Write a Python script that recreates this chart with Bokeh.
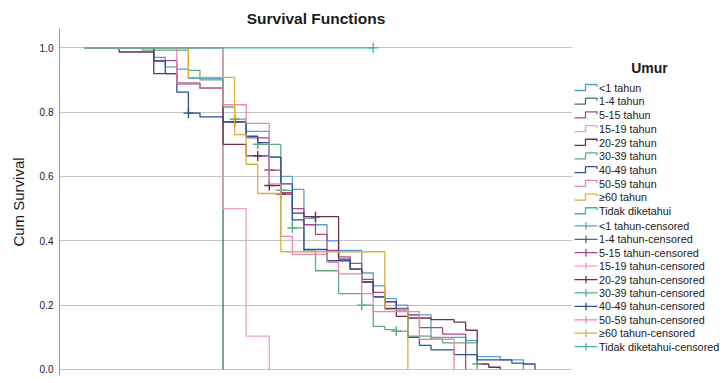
from bokeh.plotting import figure
from bokeh.layouts import row
from bokeh.models import FixedTicker, Range1d, NumeralTickFormatter, ColumnDataSource
from bokeh.core.properties import value
from bokeh.embed import file_html
from bokeh.resources import INLINE

# ---- data: Kaplan-Meier steps (time, survival) and censor times per group ----
groups = ["<1 tahun", "1-4 tahun", "5-15 tahun", "15-19 tahun", "20-29 tahun",
          "30-39 tahun", "40-49 tahun", "50-59 tahun", "\u226560 tahun", "Tidak diketahui"]
colors = ["#5a9fcb", "#3d7176", "#a5498a", "#f0a2b6", "#6e2f4a",
          "#62aa80", "#2f4f96", "#ea85b4", "#d8b03e", "#3db5b5"]

t_lt1 = [0, 6, 7, 8, 9, 12, 14, 16, 17, 18, 19, 20, 21, 22, 24, 25, 26, 27, 28, 30, 33, 34, 36, 38]
s_lt1 = [1.0, 0.97, 0.941, 0.934, 0.905, 0.77, 0.74, 0.66, 0.60, 0.56, 0.47, 0.45, 0.40, 0.37, 0.30, 0.26, 0.22, 0.20, 0.17, 0.10, 0.09, 0.04, 0.03, 0.0]
c_lt1 = [13]

t_1_4 = [0, 12]
s_1_4 = [1.0, 0.0]
c_1_4 = []

t_5_15 = [0, 6, 8, 10, 12, 14, 16, 17, 18, 19, 20, 21, 22, 23, 24, 25, 26, 27, 28, 29, 31, 33]
s_5_15 = [1.0, 0.96, 0.888, 0.875, 0.77, 0.72, 0.62, 0.55, 0.50, 0.45, 0.42, 0.37, 0.35, 0.33, 0.28, 0.24, 0.21, 0.19, 0.17, 0.13, 0.11, 0.0]
c_5_15 = [16]

t_15_19 = [0, 12, 14, 16]
s_15_19 = [1.0, 0.5, 0.104, 0.0]
c_15_19 = []

t_20_29 = [0, 3, 6, 8, 10, 12, 14, 16, 17, 18, 19, 22, 23, 24, 25, 26, 27, 28, 30, 32, 33, 34, 35, 36]
s_20_29 = [1.0, 0.987, 0.92, 0.89, 0.875, 0.70, 0.664, 0.572, 0.545, 0.486, 0.475, 0.343, 0.312, 0.272, 0.226, 0.19, 0.165, 0.16, 0.155, 0.147, 0.122, 0.017, 0.007, 0.0]
c_20_29 = [15, 16, 17, 20]

t_30_39 = [0, 5, 9, 10, 12, 13, 14, 15, 17, 18, 19, 20, 22, 24, 25, 26, 27, 28, 30, 31, 34]
s_30_39 = [1.0, 0.993, 0.93, 0.9, 0.816, 0.778, 0.722, 0.70, 0.557, 0.44, 0.368, 0.307, 0.236, 0.2, 0.134, 0.124, 0.119, 0.104, 0.094, 0.083, 0.017]
c_30_39 = [13, 15, 17, 18, 24, 27, 34]

t_40_49 = [0, 6, 7, 8, 9, 10, 12, 14, 15, 16, 17, 18, 19, 21, 23, 24, 25, 26, 27, 28, 29, 30, 32, 34, 37, 38, 39]
s_40_49 = [1.0, 0.959, 0.92, 0.862, 0.797, 0.785, 0.77, 0.725, 0.705, 0.66, 0.577, 0.465, 0.373, 0.338, 0.312, 0.272, 0.226, 0.211, 0.185, 0.10, 0.075, 0.061, 0.046, 0.03, 0.02, 0.017, 0.0]
c_40_49 = [9, 13]

t_50_59 = [0, 8, 10, 12, 14, 16, 17, 18, 21, 22, 24, 25, 29, 32]
s_50_59 = [1.0, 0.89, 0.875, 0.823, 0.765, 0.577, 0.414, 0.358, 0.333, 0.297, 0.236, 0.18, 0.094, 0.0]
c_50_59 = []

t_60 = [0, 9, 13, 14, 15, 17, 26, 28]
s_60 = [1.0, 0.908, 0.73, 0.638, 0.547, 0.366, 0.186, 0.0]
c_60 = []

t_td = [0]
s_td = [1.0]
c_td = [25]

times = [t_lt1, t_1_4, t_5_15, t_15_19, t_20_29, t_30_39, t_40_49, t_50_59, t_60, t_td]
survs = [s_lt1, s_1_4, s_5_15, s_15_19, s_20_29, s_30_39, s_40_49, s_50_59, s_60, s_td]
cens = [c_lt1, c_1_4, c_5_15, c_15_19, c_20_29, c_30_39, c_40_49, c_50_59, c_60, c_td]

y_ticks = [0.0, 0.2, 0.4, 0.6, 0.8, 1.0]
legend_title = "Umur"
censored_suffix = "-censored"

FONT = "Liberation Sans"
TXT = "#1a1a1a"
H = 375

# ---------------- main plot ----------------
p = figure(width=572, height=H, output_backend="svg", toolbar_location=None,
           x_range=Range1d(-2.16, 42.25), y_range=Range1d(-0.0187, 1.06),
           x_axis_location=None, min_border_left=59, min_border_right=0,
           min_border_top=28, min_border_bottom=0)
p.outline_line_color = None

p.title.text = "Survival Functions"
p.title.align = "center"
p.title.text_font = FONT
p.title.text_font_size = "15.5px"
p.title.text_font_style = "bold"
p.title.text_color = TXT
p.title.standoff = 4

ax = p.yaxis[0]
ax.ticker = FixedTicker(ticks=y_ticks)
ax.formatter = NumeralTickFormatter(format="0.0")
ax.axis_label = "Cum Survival"
ax.axis_label_text_font = FONT
ax.axis_label_text_font_size = "15px"
ax.axis_label_text_font_style = "normal"
ax.axis_label_text_color = TXT
ax.major_label_text_font = FONT
ax.major_label_text_font_size = "10px"
ax.major_label_text_color = TXT
ax.major_tick_line_color = None
ax.major_tick_out = 0
ax.major_tick_in = 0
ax.minor_tick_line_color = None
ax.axis_line_color = "#9a9a9a"
ax.major_label_standoff = 6
ax.axis_label_standoff = 10

p.xgrid.grid_line_color = None
p.ygrid.ticker = FixedTicker(ticks=y_ticks)
p.ygrid.grid_line_color = "#c4c4c4"
p.ygrid.grid_line_width = 1


def value_at(ts, ss, t):
    v = ss[0]
    for ti, si in zip(ts, ss):
        if ti <= t:
            v = si
    return v


for name, col, ts, ss, cs in zip(groups, colors, times, survs, cens):
    xs = list(ts)
    ys = list(ss)
    end_t = max([ts[-1]] + list(cs))
    if ys[-1] > 0 and end_t > xs[-1]:
        xs.append(end_t)
        ys.append(ys[-1])
    p.step(x=xs, y=ys, mode="after", line_color=col, line_width=1.3)
    if cs:
        cy = [value_at(ts, ss, c) for c in cs]
        p.scatter(x=list(cs), y=cy, marker="cross", size=10, line_color=col, line_width=1.4)

# ---------------- legend panel (pixel coordinates, y downwards) ----------------
LW = 148
lg = figure(width=LW, height=H, output_backend="svg", toolbar_location=None,
            x_range=Range1d(0, LW), y_range=Range1d(H, 0),
            x_axis_location=None, y_axis_location=None,
            min_border=0)
lg.outline_line_color = None
lg.xgrid.grid_line_color = None
lg.ygrid.grid_line_color = None

lg.text(x=[77], y=[43], text=[legend_title], text_align="center", text_baseline="middle",
        text_font=value(FONT), text_font_size=value("14px"), text_font_style="bold",
        text_color=TXT)

n = len(groups)
y_line = [64 + 14.8 * i for i in range(n)]
y_cens = [213.3 + 14.5 * i for i in range(n)]

# step icons
xs_icons, ys_icons = [], []
for yc in y_line:
    xs_icons.append([2, 13, 13, 24.5, 24.5])
    ys_icons.append([yc + 3, yc + 3, yc - 3.5, yc - 3.5, yc - 1])
lg.multi_line(xs=xs_icons, ys=ys_icons, line_color=colors, line_width=1.3)

# censor icons: long horizontal + short vertical
lg.segment(x0=[2] * n, y0=y_cens, x1=[25] * n, y1=y_cens, line_color=colors, line_width=1.3)
lg.segment(x0=[13.5] * n, y0=[y - 4 for y in y_cens], x1=[13.5] * n, y1=[y + 4 for y in y_cens],
           line_color=colors, line_width=1.3)

labels = list(groups) + [g + censored_suffix for g in groups]
src = ColumnDataSource(dict(x=[26.5] * (2 * n), y=y_line + y_cens, text=labels))
lg.text(x="x", y="y", text="text", source=src, text_baseline="middle", text_align="left",
        text_font=value(FONT), text_font_size=value("10.8px"), text_color=TXT)

layout = row(p, lg, spacing=0)
open("out.html", "w").write(file_html(layout, INLINE))
